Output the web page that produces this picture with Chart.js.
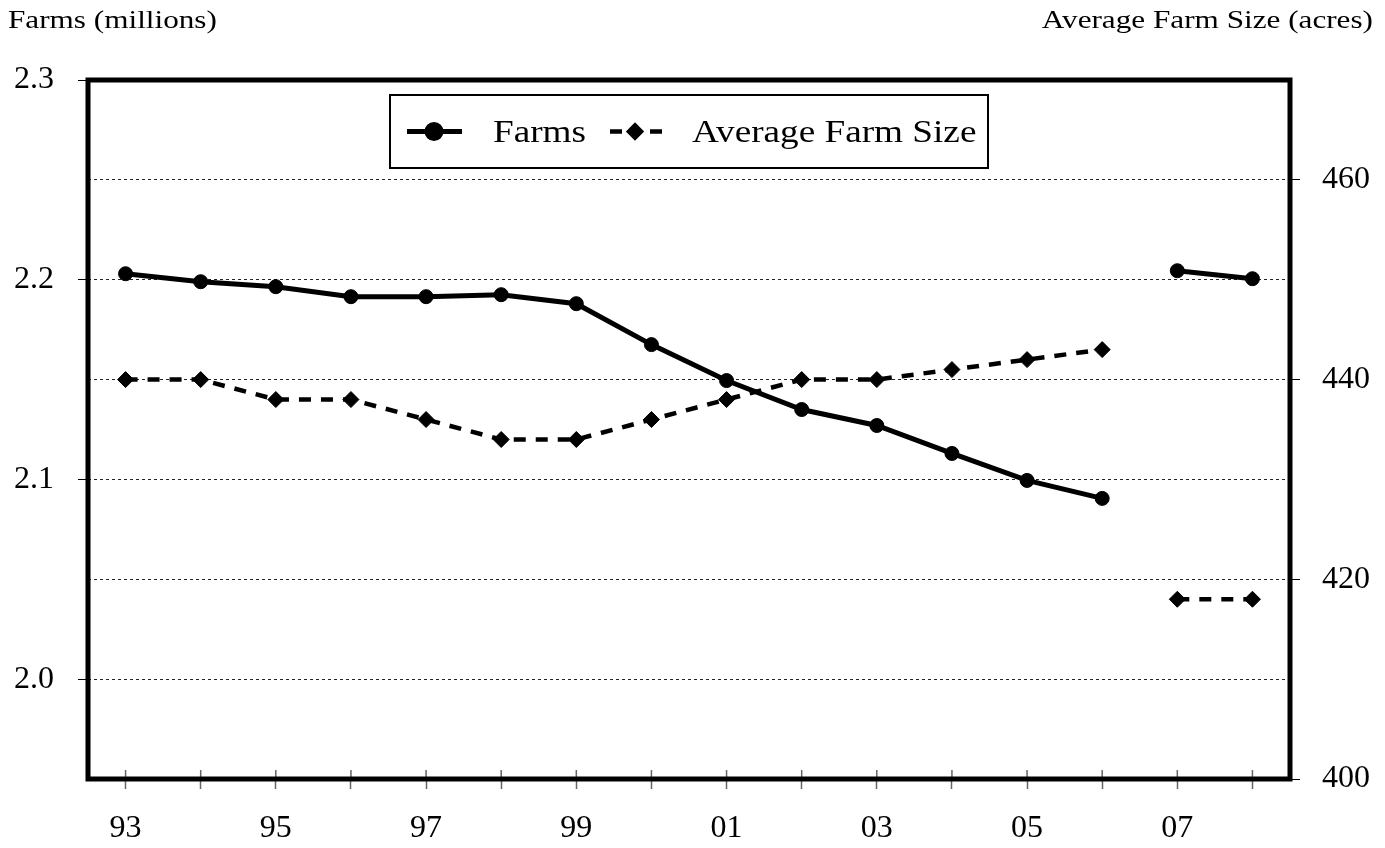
<!DOCTYPE html>
<html>
<head>
<meta charset="utf-8">
<script src="https://cdn.jsdelivr.net/npm/chart.js@4.4.1/dist/chart.umd.min.js"></script>
<style>
  html, body { margin: 0; padding: 0; background: #fff; }
  #wrap { width: 1385px; height: 848px; }
  #probe { position: absolute; left: -9999px; top: 0; font-family: "Liberation Serif"; font-size: 30px; }
</style>
</head>
<body>
<span id="probe">Farms 0123456789 Average Size (acres)</span>
<div id="wrap"><canvas id="chart"></canvas></div>
<script>
// years on the x axis (only every other one gets a label)
var years = ['93','94','95','96','97','98','99','00','01','02','03','04','05','06','07','08'];
// number of farms, millions (left axis)
var farms = [2.203, 2.199, 2.1965, 2.1915, 2.1915, 2.1925, 2.188, 2.1675, 2.1495, 2.135, 2.127, 2.113, 2.0995, 2.0905, 2.2045, 2.2005];
// average farm size, acres (right axis)
var farmSize = [440, 440, 438, 438, 436, 434, 434, 436, 438, 440, 440, 441, 442, 443, 418, 418];
// labelled ticks
var farmTicks = [2.0, 2.1, 2.2, 2.3];
var sizeTicks = [400, 420, 440, 460];
// series are not joined across this point (new farm definition from 07)
var breakAfter = '06';

var SERIF = '"Liberation Serif", serif';
Chart.defaults.font.family = SERIF;
Chart.defaults.font.size = 32;
Chart.defaults.color = '#000';

function isLabelled(list, v) {
	return list.some(function (t) { return Math.abs(t - v) < 1e-6; });
}

function gapColor(ctx) {
	return years[ctx.p0DataIndex] === breakAfter ? 'rgba(0,0,0,0)' : undefined;
}

// frame, legend box, axis titles and inner half of x ticks
var decor = {
	id: 'decor',
	afterDraw: function (chart) {
		var ctx = chart.ctx, a = chart.chartArea, ds = chart.data.datasets;
		var xs = chart.scales.x;
		ctx.save();

		// inner part of x tick marks
		ctx.strokeStyle = '#666';
		ctx.lineWidth = 1.5;
		years.forEach(function (y, i) {
			var px = xs.getPixelForValue(i);
			ctx.beginPath();
			ctx.moveTo(px, a.bottom - 9);
			ctx.lineTo(px, a.bottom);
			ctx.stroke();
		});

		// thick frame
		ctx.strokeStyle = '#000';
		ctx.lineWidth = 5;
		ctx.strokeRect(a.left, a.top, a.right - a.left, a.bottom - a.top);

		// axis titles
		ctx.fillStyle = '#000';
		ctx.font = '26px ' + SERIF;
		ctx.textBaseline = 'alphabetic';
		ctx.save();
		ctx.translate(8, 28);
		ctx.scale(1.2, 1);
		ctx.textAlign = 'left';
		ctx.fillText('Farms (millions)', 0, 0);
		ctx.restore();
		ctx.save();
		ctx.translate(1373, 28);
		ctx.scale(1.2, 1);
		ctx.textAlign = 'right';
		ctx.fillText('Average Farm Size (acres)', 0, 0);
		ctx.restore();

		// legend box
		var w = 598, h = 73;
		var x0 = Math.round((a.left + a.right) / 2 - w / 2), y0 = a.top + 15;
		var cy = y0 + h / 2;
		ctx.fillStyle = '#fff';
		ctx.fillRect(x0, y0, w, h);
		ctx.lineWidth = 2;
		ctx.strokeStyle = '#000';
		ctx.strokeRect(x0, y0, w, h);

		// sample 1: solid line + circle
		ctx.lineWidth = ds[0].borderWidth;
		ctx.setLineDash([]);
		ctx.beginPath();
		ctx.moveTo(x0 + 17, cy);
		ctx.lineTo(x0 + 72, cy);
		ctx.stroke();
		ctx.fillStyle = '#000';
		Chart.helpers.drawPoint(ctx, { pointStyle: 'circle', radius: ds[0].pointRadius, rotation: 0, borderWidth: 1 }, x0 + 44, cy);
		ctx.fill();

		// sample 2: dash, diamond, dash
		ctx.lineWidth = ds[1].borderWidth;
		ctx.beginPath();
		ctx.moveTo(x0 + 220, cy); ctx.lineTo(x0 + 232, cy);
		ctx.moveTo(x0 + 260, cy); ctx.lineTo(x0 + 272, cy);
		ctx.stroke();
		Chart.helpers.drawPoint(ctx, { pointStyle: 'rectRot', radius: 6, rotation: 0, borderWidth: 1 }, x0 + 245, cy);
		ctx.fill();

		ctx.font = '31px ' + SERIF;
		ctx.textAlign = 'left';
		ctx.textBaseline = 'middle';
		[[ds[0].label, 103], [ds[1].label, 302]].forEach(function (it) {
			ctx.save();
			ctx.translate(x0 + it[1], cy + 2);
			ctx.scale(1.2, 1);
			ctx.fillText(it[0], 0, 0);
			ctx.restore();
		});

		ctx.restore();
	}
};

function build() {
	new Chart(document.getElementById('chart'), {
		type: 'line',
		data: {
			labels: years,
			datasets: [
				{
					label: 'Farms',
					data: farms,
					yAxisID: 'y',
					borderColor: '#000',
					backgroundColor: '#000',
					borderWidth: 5,
					pointStyle: 'circle',
					pointRadius: 7,
					pointBorderWidth: 1,
					tension: 0,
					segment: { borderColor: gapColor }
				},
				{
					label: 'Average Farm Size',
					data: farmSize,
					yAxisID: 'y2',
					borderColor: '#000',
					backgroundColor: '#000',
					borderWidth: 4.5,
					borderDash: [12, 10],
					pointStyle: 'rectRot',
					pointRadius: 8,
					pointBorderWidth: 1,
					tension: 0,
					segment: { borderColor: gapColor }
				}
			]
		},
		options: {
			responsive: true,
			maintainAspectRatio: false,
			animation: false,
			layout: { padding: { top: 80, left: 0, right: 0, bottom: 0 } },
			plugins: {
				legend: { display: false },
				tooltip: { enabled: false }
			},
			scales: {
				x: {
					offset: true,
					afterFit: function (s) { s.height = 69; },
					border: { display: false },
					grid: {
						drawOnChartArea: false,
						tickLength: 10,
						tickColor: '#666',
						tickWidth: 1.5
					},
					ticks: {
						autoSkip: false,
						maxRotation: 0,
						padding: 20,
						callback: function (v, i) { return i % 2 === 0 ? years[i] : ''; }
					}
				},
				y: {
					position: 'left',
					min: 1.95,
					max: 2.3,
					afterFit: function (s) { s.width = 88; },
					border: { display: false, dash: [3, 3] },
					grid: {
						color: '#222',
						lineWidth: 1,
						tickLength: 10,
						tickBorderDash: [],
						tickColor: function (c) { return c.tick && isLabelled(farmTicks, c.tick.value) ? '#000' : 'rgba(0,0,0,0)'; }
					},
					ticks: {
						stepSize: 0.05,
						autoSkip: false,
						padding: 24,
						callback: function (v) { return isLabelled(farmTicks, v) ? v.toFixed(1) : ''; }
					}
				},
				y2: {
					position: 'right',
					min: 400,
					max: 470,
					afterFit: function (s) { s.width = 95; },
					border: { display: false },
					grid: {
						drawOnChartArea: false,
						tickLength: 10,
						tickColor: function (c) { return c.tick && isLabelled(sizeTicks, c.tick.value) ? '#000' : 'rgba(0,0,0,0)'; }
					},
					ticks: {
						stepSize: 10,
						autoSkip: false,
						padding: 22,
						callback: function (v) { return isLabelled(sizeTicks, v) ? String(v) : ''; }
					}
				}
			}
		},
		plugins: [decor]
	});
}

if (document.fonts && document.fonts.load) {
	Promise.all([
		document.fonts.load('32px "Liberation Serif"'),
		document.fonts.load('26px "Liberation Serif"')
	]).then(build, build);
} else {
	build();
}
</script>
</body>
</html>
